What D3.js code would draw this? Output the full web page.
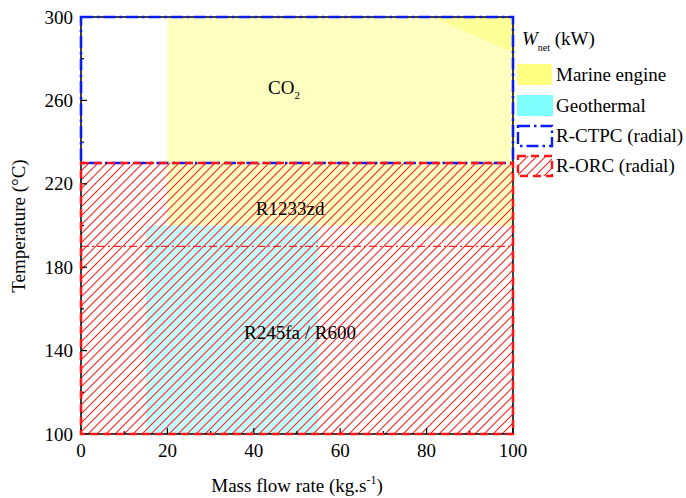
<!DOCTYPE html>
<html><head><meta charset="utf-8">
<script src="https://cdn.jsdelivr.net/npm/d3@7"></script>
<style>body{margin:0;background:#fff}svg{display:block}text{font-family:"Liberation Serif","Times New Roman",serif;fill:#000}</style>
</head><body>
<svg id="c" width="686" height="498"></svg>
<script>
const xTicks = [0, 20, 40, 60, 80, 100];
const yTicks = [100, 140, 180, 220, 260, 300];
const xMinor = [10, 30, 50, 70, 90];
const yMinor = [120, 160, 200, 240, 280];
// filled regions [x0, x1, T0, T1]
const marineRegion = [20, 100, 200, 300];
const geoRegion = [15, 55, 100, 200];
const marineHigh = [[81.3, 300], [100, 300], [100, 283]];
// boxes
const ctpcBox = [0, 100, 230, 300];
const orcBox = [0, 100, 100, 230];
const orcLineT = 190;
const labels = [
  {text: "CO", sub: "2", x: 47, T: 263},
  {text: "R1233zd", x: 48.4, T: 205},
  {text: "R245fa / R600", x: 50.7, T: 145.5}
];
const legendItems = ["Marine engine", "Geothermal", "R-CTPC (radial)", "R-ORC (radial)"];

const FS = 19;
const svg = d3.select("#c");
const L = 81, R = 513, T = 17, B = 434;
const x = d3.scaleLinear().domain([0, 100]).range([L, R]);
const y = d3.scaleLinear().domain([100, 300]).range([B, T]);

const defs = svg.append("defs");
const pat = defs.append("pattern").attr("id", "hatch").attr("patternUnits", "userSpaceOnUse")
  .attr("width", 9).attr("height", 9);
pat.append("path").attr("d", "M-2,2 L2,-2 M0,9 L9,0 M7,11 L11,7").attr("stroke", "#ff2020").attr("stroke-width", 1.1);
const clip = defs.append("clipPath").attr("id", "pc");
clip.append("rect").attr("x", L).attr("y", T).attr("width", R - L).attr("height", B - T);

const g = svg.append("g").attr("clip-path", "url(#pc)");
function rectOf(r) { return {x: x(r[0]), y: y(r[3]), w: x(r[1]) - x(r[0]), h: y(r[2]) - y(r[3])}; }
const m = rectOf(marineRegion);
g.append("rect").attr("x", m.x).attr("y", m.y).attr("width", m.w).attr("height", m.h).attr("fill", "#ffffc0");
g.append("path").attr("d", d3.line().x(d => x(d[0])).y(d => y(d[1]))(marineHigh) + "Z").attr("fill", "#ffff98");
const ge = rectOf(geoRegion);
g.append("rect").attr("x", ge.x).attr("y", ge.y).attr("width", ge.w).attr("height", ge.h).attr("fill", "#c0ffff");
const ob = rectOf(orcBox);
g.append("rect").attr("x", ob.x).attr("y", ob.y).attr("width", ob.w).attr("height", ob.h).attr("fill", "url(#hatch)");
g.append("line").attr("x1", x(0)).attr("x2", x(100)).attr("y1", y(orcLineT)).attr("y2", y(orcLineT))
  .attr("stroke", "#ff2020").attr("stroke-width", 1.2).attr("stroke-dasharray", "8,3,2,3");

// frame
svg.append("rect").attr("x", L).attr("y", T).attr("width", R - L).attr("height", B - T)
  .attr("fill", "none").attr("stroke", "#000").attr("stroke-width", 1.5);

// ticks
const ax = svg.append("g");
xTicks.forEach(v => ax.append("line").attr("x1", x(v)).attr("x2", x(v)).attr("y1", B).attr("y2", B - 6).attr("stroke", "#000").attr("stroke-width", 1.2));
xMinor.forEach(v => ax.append("line").attr("x1", x(v)).attr("x2", x(v)).attr("y1", B).attr("y2", B - 3).attr("stroke", "#000").attr("stroke-width", 1.2));
yTicks.forEach(v => ax.append("line").attr("y1", y(v)).attr("y2", y(v)).attr("x1", L).attr("x2", L + 6).attr("stroke", "#000").attr("stroke-width", 1.2));
yMinor.forEach(v => ax.append("line").attr("y1", y(v)).attr("y2", y(v)).attr("x1", L).attr("x2", L + 3).attr("stroke", "#000").attr("stroke-width", 1.2));
xTicks.forEach(v => ax.append("text").attr("x", x(v)).attr("y", B + 23).attr("text-anchor", "middle").attr("font-size", FS).text(v));
yTicks.forEach(v => ax.append("text").attr("x", L - 8).attr("y", y(v) + 6.5).attr("text-anchor", "end").attr("font-size", FS).text(v));

// boxes
const cb = rectOf(ctpcBox);
svg.append("rect").attr("x", cb.x).attr("y", cb.y).attr("width", cb.w).attr("height", cb.h)
  .attr("fill", "none").attr("stroke", "#0a1cf5").attr("stroke-width", 2.6).attr("stroke-dasharray", "12,4,2.5,4");
svg.append("rect").attr("x", ob.x).attr("y", ob.y).attr("width", ob.w).attr("height", ob.h)
  .attr("fill", "none").attr("stroke", "#ff1515").attr("stroke-width", 2.6).attr("stroke-dasharray", "8,5");

// region labels
labels.forEach(l => {
  const t = svg.append("text").attr("x", x(l.x)).attr("y", y(l.T)).attr("text-anchor", "middle").attr("font-size", FS);
  t.append("tspan").text(l.text);
  if (l.sub) t.append("tspan").attr("font-size", 11).attr("dy", 5).text(l.sub);
});

// axis titles
const xt = svg.append("text").attr("x", 297).attr("y", 492).attr("text-anchor", "middle").attr("font-size", FS);
xt.append("tspan").text("Mass flow rate (kg.s");
xt.append("tspan").attr("font-size", 12).attr("dy", -8).text("-1");
xt.append("tspan").attr("dy", 8).text(")");
svg.append("text").attr("transform", "translate(25,226) rotate(-90)").attr("text-anchor", "middle").attr("font-size", FS).text("Temperature (°C)");

// legend
const lg = svg.append("g");
const wt = lg.append("text").attr("x", 522).attr("y", 45).attr("font-size", FS);
wt.append("tspan").attr("font-style", "italic").text("W");
wt.append("tspan").attr("font-size", 10).attr("dy", 6).text("net");
wt.append("tspan").attr("dy", -6).text(" (kW)");
const ly = [64, 95, 125, 155];
lg.append("rect").attr("x", 517).attr("y", ly[0]).attr("width", 35).attr("height", 21).attr("fill", "#ffff80");
lg.append("rect").attr("x", 517).attr("y", ly[1]).attr("width", 36).attr("height", 21).attr("fill", "#80ffff");
lg.append("rect").attr("x", 518).attr("y", ly[2] + 1).attr("width", 34).attr("height", 20).attr("fill", "none")
  .attr("stroke", "#0a1cf5").attr("stroke-width", 2.4).attr("stroke-dasharray", "12,4,2.5,4");
lg.append("rect").attr("x", 518).attr("y", ly[3] + 1).attr("width", 34).attr("height", 20).attr("fill", "url(#hatch)")
  .attr("stroke", "#ff1515").attr("stroke-width", 2.4).attr("stroke-dasharray", "8,5");
legendItems.forEach((s, i) => lg.append("text").attr("x", 556).attr("y", ly[i] + 17).attr("font-size", FS).text(s));
</script>
</body></html>
